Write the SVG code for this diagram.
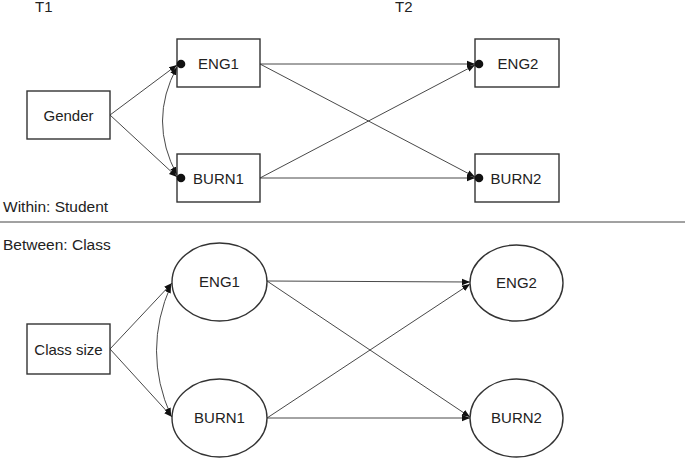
<svg xmlns="http://www.w3.org/2000/svg" width="685" height="458" viewBox="0 0 685 458">
<style>
text{font-family:"Liberation Sans","Open Sans",Arial,sans-serif;fill:#222;font-size:15px}
.sec{font-size:15.5px}
.box{fill:#fff;stroke:#333;stroke-width:1.4}
.lbl{text-anchor:middle}
.c{fill:none;stroke:#333;stroke-width:0.9}
.dot{fill:#111}
</style>
<defs>
<marker id="ah" viewBox="0 0 10 10" refX="10" refY="5" markerWidth="8" markerHeight="8" markerUnits="userSpaceOnUse" orient="auto-start-reverse">
<path d="M0,1 L10,5 L0,9 z" fill="#111"/>
</marker>
</defs>
<text x="35" y="12" font-size="11">T1</text>
<text x="395" y="12" font-size="11">T2</text>
<text class="sec" x="3" y="212">Within: Student</text>
<line x1="0" y1="222" x2="685" y2="222" stroke="#444" stroke-width="1"/>
<text class="sec" x="3" y="250">Between: Class</text>

<g id="connectors">
<line class="c" x1="110" y1="115" x2="177" y2="65" marker-end="url(#ah)"/>
<line class="c" x1="110" y1="115" x2="177" y2="177" marker-end="url(#ah)"/>
<path class="c" d="M177,67 Q148,121 177,175" marker-start="url(#ah)" marker-end="url(#ah)"/>
<line class="c" x1="260" y1="64" x2="475" y2="64" marker-end="url(#ah)"/>
<line class="c" x1="260" y1="64" x2="475" y2="177" marker-end="url(#ah)"/>
<line class="c" x1="260" y1="178" x2="475" y2="65" marker-end="url(#ah)"/>
<line class="c" x1="260" y1="178" x2="475" y2="178" marker-end="url(#ah)"/>

<line class="c" x1="110" y1="349" x2="172" y2="283" marker-end="url(#ah)"/>
<line class="c" x1="110" y1="349" x2="172" y2="417" marker-end="url(#ah)"/>
<path class="c" d="M171,285 Q142,351 171,416" marker-start="url(#ah)" marker-end="url(#ah)"/>
<line class="c" x1="267" y1="281" x2="470" y2="282" marker-end="url(#ah)"/>
<line class="c" x1="267" y1="281" x2="470" y2="417" marker-end="url(#ah)"/>
<line class="c" x1="267" y1="418" x2="470" y2="284" marker-end="url(#ah)"/>
<line class="c" x1="267" y1="418" x2="470" y2="418" marker-end="url(#ah)"/>
</g>

<g id="gender"><rect class="box" x="27" y="91" width="83" height="48"/><text class="lbl" x="68.5" y="121" font-size="16">Gender</text></g>
<g id="eng1-w"><rect class="box" x="177" y="39" width="83" height="48"/><circle class="dot" cx="181" cy="64" r="4.3"/><text class="lbl" x="218.5" y="69">ENG1</text></g>
<g id="burn1-w"><rect class="box" x="177" y="154" width="83" height="48"/><circle class="dot" cx="181" cy="178" r="4.3"/><text class="lbl" x="218.5" y="184">BURN1</text></g>
<g id="eng2-w"><rect class="box" x="475" y="39" width="84" height="48"/><circle class="dot" cx="479" cy="64" r="4.3"/><text class="lbl" x="518" y="69">ENG2</text></g>
<g id="burn2-w"><rect class="box" x="475" y="154" width="84" height="48"/><circle class="dot" cx="479" cy="178" r="4.3"/><text class="lbl" x="516" y="184">BURN2</text></g>

<g id="classsize"><rect class="box" x="27" y="324" width="83" height="50"/><text class="lbl" x="68.5" y="355">Class size</text></g>
<g id="eng1-b"><ellipse class="box" cx="219.5" cy="282" rx="47.5" ry="39"/><text class="lbl" x="219.5" y="287">ENG1</text></g>
<g id="burn1-b"><ellipse class="box" cx="219.5" cy="418" rx="47.5" ry="39"/><text class="lbl" x="219.5" y="423">BURN1</text></g>
<g id="eng2-b"><ellipse class="box" cx="516.5" cy="283" rx="46.5" ry="38"/><text class="lbl" x="516.5" y="288">ENG2</text></g>
<g id="burn2-b"><ellipse class="box" cx="516.5" cy="418" rx="46.5" ry="39"/><text class="lbl" x="516.5" y="423">BURN2</text></g>
</svg>
